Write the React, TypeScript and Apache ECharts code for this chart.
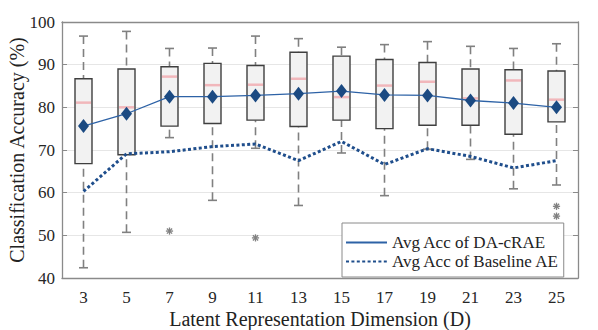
import React, { useEffect, useRef } from "react";
import * as echarts from "echarts";

const dims = ["3", "5", "7", "9", "11", "13", "15", "17", "19", "21", "23", "25"];
const whiskerLow = [42.4, 50.7, 72.9, 58.2, 70.4, 57.0, 69.3, 59.3, 70.2, 67.8, 60.9, 61.8];
const q1 = [66.8, 68.9, 75.6, 76.2, 77.0, 75.5, 77.0, 75.0, 75.8, 75.8, 73.7, 76.6];
const median = [81.1, 80.0, 87.2, 85.2, 85.3, 86.7, 82.4, 85.1, 86.0, 82.1, 86.3, 81.8];
const q3 = [86.7, 89.0, 89.5, 90.3, 89.8, 92.9, 92.0, 91.2, 90.5, 89.0, 88.8, 88.5];
const whiskerHigh = [96.7, 97.8, 93.8, 93.9, 96.7, 96.1, 94.1, 94.7, 95.4, 94.3, 93.8, 94.9];
const meanDaCrae = [75.6, 78.5, 82.5, 82.5, 82.8, 83.2, 83.8, 82.9, 82.8, 81.6, 81.0, 80.0];
const meanBaseline = [60.3, 69.1, 69.6, 70.8, 71.4, 67.5, 72.0, 66.6, 70.3, 68.5, 65.8, 67.5];
const outlierDimIndex = [2, 4, 11, 11];
const outlierValue = [51.0, 49.4, 56.8, 54.5];
const yTicks = [40, 50, 60, 70, 80, 90, 100];

const FONT = "Times New Roman";

export default function App() {
  const ref = useRef<HTMLDivElement>(null);
  useEffect(() => {
    document.body.style.margin = "0";
    if (!ref.current) return;
    const chart = echarts.init(ref.current, undefined, { renderer: "svg" });
    const boxData = dims.map((_, i) => [i, whiskerLow[i], q1[i], median[i], q3[i], whiskerHigh[i]]);
    const outData = outlierDimIndex.map((d, i) => [d, outlierValue[i]]);
    const whiskerColor = "#808080";
    const option: any = {
      animation: false,
      grid: { left: 62, right: 20, top: 22, bottom: 52, containLabel: false, outerBoundsMode: "none" },
      legend: {
        orient: "vertical",
        left: 342,
        top: 223,
        backgroundColor: "#ffffff",
        borderColor: "#8a8a8a",
        borderWidth: 1,
        padding: [11, 4, 7, 3],
        itemWidth: 41,
        itemHeight: 14,
        itemGap: 2,
        itemStyle: { opacity: 0 },
        textStyle: { fontFamily: FONT, fontSize: 17, color: "#222" },
        data: ["Avg Acc of DA-cRAE", "Avg Acc of Baseline AE"],
      },
      xAxis: [
        {
          type: "category",
          data: dims,
          boundaryGap: true,
          name: "Latent Representation Dimension (D)",
          nameLocation: "middle",
          nameGap: 31,
          nameMoveOverlap: false,
          nameTextStyle: { fontFamily: FONT, fontSize: 20, color: "#222" },
          axisLine: { lineStyle: { color: "#8a8a8a", width: 1.3 } },
          axisTick: { alignWithLabel: true, inside: true, length: 5, lineStyle: { color: "#8a8a8a" } },
          axisLabel: { fontFamily: FONT, fontSize: 17, color: "#262626", margin: 11 },
          splitLine: { show: false },
        },
        {
          type: "category",
          data: dims,
          position: "top",
          boundaryGap: true,
          axisLine: { lineStyle: { color: "#8a8a8a", width: 1.3 } },
          axisTick: { alignWithLabel: true, inside: true, length: 5, lineStyle: { color: "#8a8a8a" } },
          axisLabel: { show: false },
          splitLine: { show: false },
        },
      ],
      yAxis: [
        {
          type: "value",
          min: yTicks[0],
          max: yTicks[yTicks.length - 1],
          interval: 10,
          name: "Classification Accuracy (%)",
          nameLocation: "middle",
          nameGap: 35,
          nameMoveOverlap: false,
          nameTextStyle: { fontFamily: FONT, fontSize: 20, color: "#222" },
          axisLine: { show: true, lineStyle: { color: "#8a8a8a", width: 1.3 } },
          axisTick: { show: true, inside: true, length: 5, lineStyle: { color: "#8a8a8a" } },
          axisLabel: { fontFamily: FONT, fontSize: 17, color: "#262626", margin: 7 },
          splitLine: { show: true, lineStyle: { color: "#e6e6e6", width: 1 } },
        },
        {
          type: "value",
          position: "right",
          min: yTicks[0],
          max: yTicks[yTicks.length - 1],
          interval: 10,
          axisLine: { show: true, lineStyle: { color: "#8a8a8a", width: 1.3 } },
          axisTick: { show: true, inside: true, length: 5, lineStyle: { color: "#8a8a8a" } },
          axisLabel: { show: false },
          splitLine: { show: false },
        },
      ],
      series: [
        {
          type: "custom",
          name: "box",
          data: boxData,
          encode: { x: 0, y: [1, 2, 3, 4, 5] },
          z: 2,
          renderItem: (params: any, api: any) => {
            const x = api.value(0);
            const pLow = api.coord([x, api.value(1)]);
            const pQ1 = api.coord([x, api.value(2)]);
            const pMed = api.coord([x, api.value(3)]);
            const pQ3 = api.coord([x, api.value(4)]);
            const pHigh = api.coord([x, api.value(5)]);
            const cx = pLow[0];
            const hw = 8.5;
            const cap = 4.5;
            const dashStyle = { stroke: whiskerColor, lineWidth: 1.6, lineDash: [8, 5] };
            const capStyle = { stroke: whiskerColor, lineWidth: 1.6 };
            return {
              type: "group",
              children: [
                { type: "line", shape: { x1: cx, y1: pHigh[1], x2: cx, y2: pQ3[1] }, style: dashStyle },
                { type: "line", shape: { x1: cx, y1: pLow[1], x2: cx, y2: pQ1[1] }, style: dashStyle },
                { type: "line", shape: { x1: cx - cap, y1: pHigh[1], x2: cx + cap, y2: pHigh[1] }, style: capStyle },
                { type: "line", shape: { x1: cx - cap, y1: pLow[1], x2: cx + cap, y2: pLow[1] }, style: capStyle },
                {
                  type: "rect",
                  shape: { x: cx - hw, y: pQ3[1], width: hw * 2, height: pQ1[1] - pQ3[1] },
                  style: { fill: "#f2f2f2", stroke: "#3f3f3f", lineWidth: 1.4 },
                },
                {
                  type: "line",
                  shape: { x1: cx - hw + 1, y1: pMed[1], x2: cx + hw - 1, y2: pMed[1] },
                  style: { stroke: "#f1b7bb", lineWidth: 2.5 },
                },
              ],
            };
          },
        },
        {
          type: "line",
          name: "Avg Acc of Baseline AE",
          data: meanBaseline,
          symbol: "none",
          z: 3,
          lineStyle: { color: "#1f4e8c", width: 3, type: [3, 2.4] },
          itemStyle: { color: "#1f4e8c" },
        },
        {
          type: "line",
          name: "Avg Acc of DA-cRAE",
          data: meanDaCrae,
          symbol: "diamond",
          symbolSize: [11, 14],
          z: 4,
          lineStyle: { color: "#2d62a6", width: 1.3 },
          itemStyle: { color: "#1b4a82" },
        },
        {
          type: "custom",
          name: "outliers",
          data: outData,
          encode: { x: 0, y: 1 },
          z: 3,
          renderItem: (params: any, api: any) => {
            const p = api.coord([api.value(0), api.value(1)]);
            const r = 3.6;
            const d = r * 0.72;
            const st = { stroke: "#808080", lineWidth: 1.3 };
            return {
              type: "group",
              children: [
                { type: "line", shape: { x1: p[0] - r, y1: p[1], x2: p[0] + r, y2: p[1] }, style: st },
                { type: "line", shape: { x1: p[0], y1: p[1] - r, x2: p[0], y2: p[1] + r }, style: st },
                { type: "line", shape: { x1: p[0] - d, y1: p[1] - d, x2: p[0] + d, y2: p[1] + d }, style: st },
                { type: "line", shape: { x1: p[0] - d, y1: p[1] + d, x2: p[0] + d, y2: p[1] - d }, style: st },
              ],
            };
          },
        },
      ],
    };
    chart.setOption(option);
    return () => chart.dispose();
  }, []);
  return <div ref={ref} style={{ width: 598, height: 330 }} />;
}
